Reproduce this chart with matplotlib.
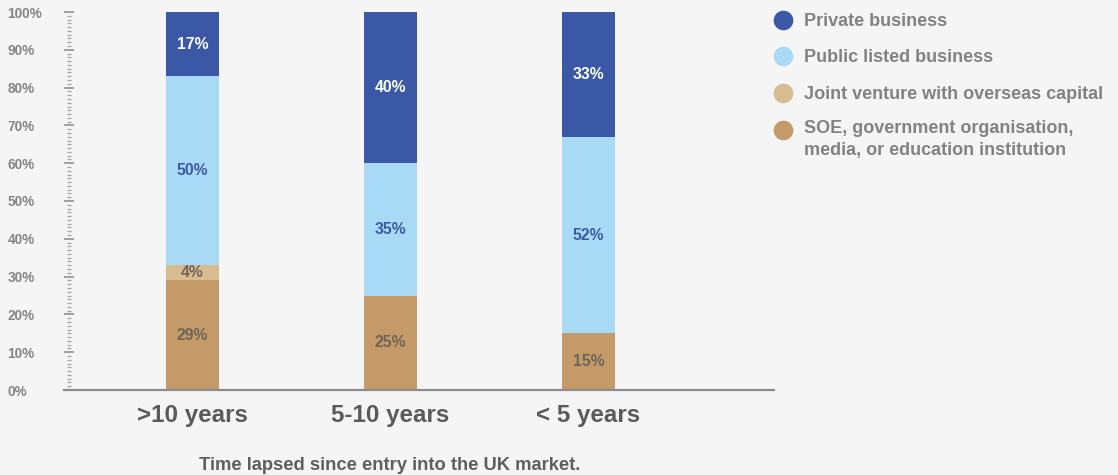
import matplotlib
matplotlib.use("Agg")
import matplotlib.pyplot as plt
import numpy as np
from matplotlib.ticker import MultipleLocator, FuncFormatter

# --- data -------------------------------------------------------------
categories = [">10 years", "5-10 years", "< 5 years"]
series_names = [
    "SOE, government organisation,\nmedia, or education institution",
    "Joint venture with overseas capital",
    "Public listed business",
    "Private business",
]
soe = [29, 25, 15]
joint_venture = [4, 0, 0]
public_listed = [50, 35, 52]
private = [17, 40, 33]
series_values = [soe, joint_venture, public_listed, private]

colors = ["#c49a68", "#d6bc8f", "#a9daf5", "#3a58a5"]
label_colors = ["#6e6458", "#6e6458", "#3a58a5", "#ffffff"]

# --- figure -----------------------------------------------------------
W, H = 1118, 475
DPI = 100
plt.rcParams["font.family"] = ["Liberation Sans", "DejaVu Sans"]
plt.rcParams["font.weight"] = "bold"
bg = "#f5f5f5"
fig = plt.figure(figsize=(W / DPI, H / DPI), dpi=DPI, facecolor=bg)

left_px, right_px, top_px, bottom_px = 69, 774, 12, 390
ax = fig.add_axes([left_px / W, 1 - bottom_px / H,
                   (right_px - left_px) / W, (bottom_px - top_px) / H])
ax.set_facecolor(bg)

x = np.arange(len(categories))
bar_w = 0.268
bottom = np.zeros(len(categories))
for vals, col, lcol in zip(series_values, colors, label_colors):
    vals = np.array(vals, dtype=float)
    ax.bar(x, vals, bar_w, bottom=bottom, color=col, linewidth=0, zorder=2)
    for xi, v, b in zip(x, vals, bottom):
        if v > 0:
            ax.text(xi, b + v / 2, f"{int(v)}%", ha="center", va="center",
                    fontsize=11.3, fontweight="bold", color=lcol, zorder=3)
    bottom += vals

ax.set_xlim(-0.6237, 2.9369)
ax.set_ylim(0, 100)

for side in ("left", "right", "top", "bottom"):
    ax.spines[side].set_visible(False)

# baseline
ax.axhline(0, xmin=-5 / (right_px - left_px), xmax=1, color="#8c8c8c",
           linewidth=1.6, clip_on=False, zorder=4)

ax.yaxis.set_major_locator(MultipleLocator(10))
ax.yaxis.set_minor_locator(MultipleLocator(1))
ax.yaxis.set_major_formatter(FuncFormatter(lambda v, p: f"{int(v)}%"))
ax.tick_params(axis="y", which="major", direction="inout", length=6.5,
               width=1.3, color="#9a9a9a", labelsize=9.8, labelcolor="#858585",
               pad=41)
ax.tick_params(axis="y", which="minor", direction="inout", length=3,
               width=0.9, color="#a5a5a5")
for lab in ax.get_yticklabels():
    lab.set_horizontalalignment("left")
    lab.set_fontweight("bold")

ax.set_xticks(x)
ax.set_xticklabels(categories, fontsize=17.4, fontweight="bold", color="#5a5a5a")
ax.tick_params(axis="x", length=0, pad=10)

fig.text(390 / W, 1 - 466 / H, "Time lapsed since entry into the UK market.",
         ha="center", va="center", fontsize=13.2, fontweight="bold",
         color="#5e5e5e")

# legend drawn in pixel space
lax = fig.add_axes([0, 0, 1, 1], facecolor="none")
lax.set_xlim(0, W)
lax.set_ylim(H, 0)
lax.axis("off")
legend_order = [3, 2, 1, 0]
legend_y = [20, 56, 93, 130]
for idx, ly in zip(legend_order, legend_y):
    lax.scatter([783], [ly], s=200, color=colors[idx], linewidths=0)
    name = series_names[idx]
    if "\n" in name:
        lax.text(804, ly - 10, name, ha="left", va="top", fontsize=13,
                 fontweight="bold", color="#828282", linespacing=1.42)
    else:
        lax.text(804, ly + 1.5, name, ha="left", va="center", fontsize=13,
                 fontweight="bold", color="#828282")

fig.savefig("out.png", dpi=DPI, facecolor=bg)
